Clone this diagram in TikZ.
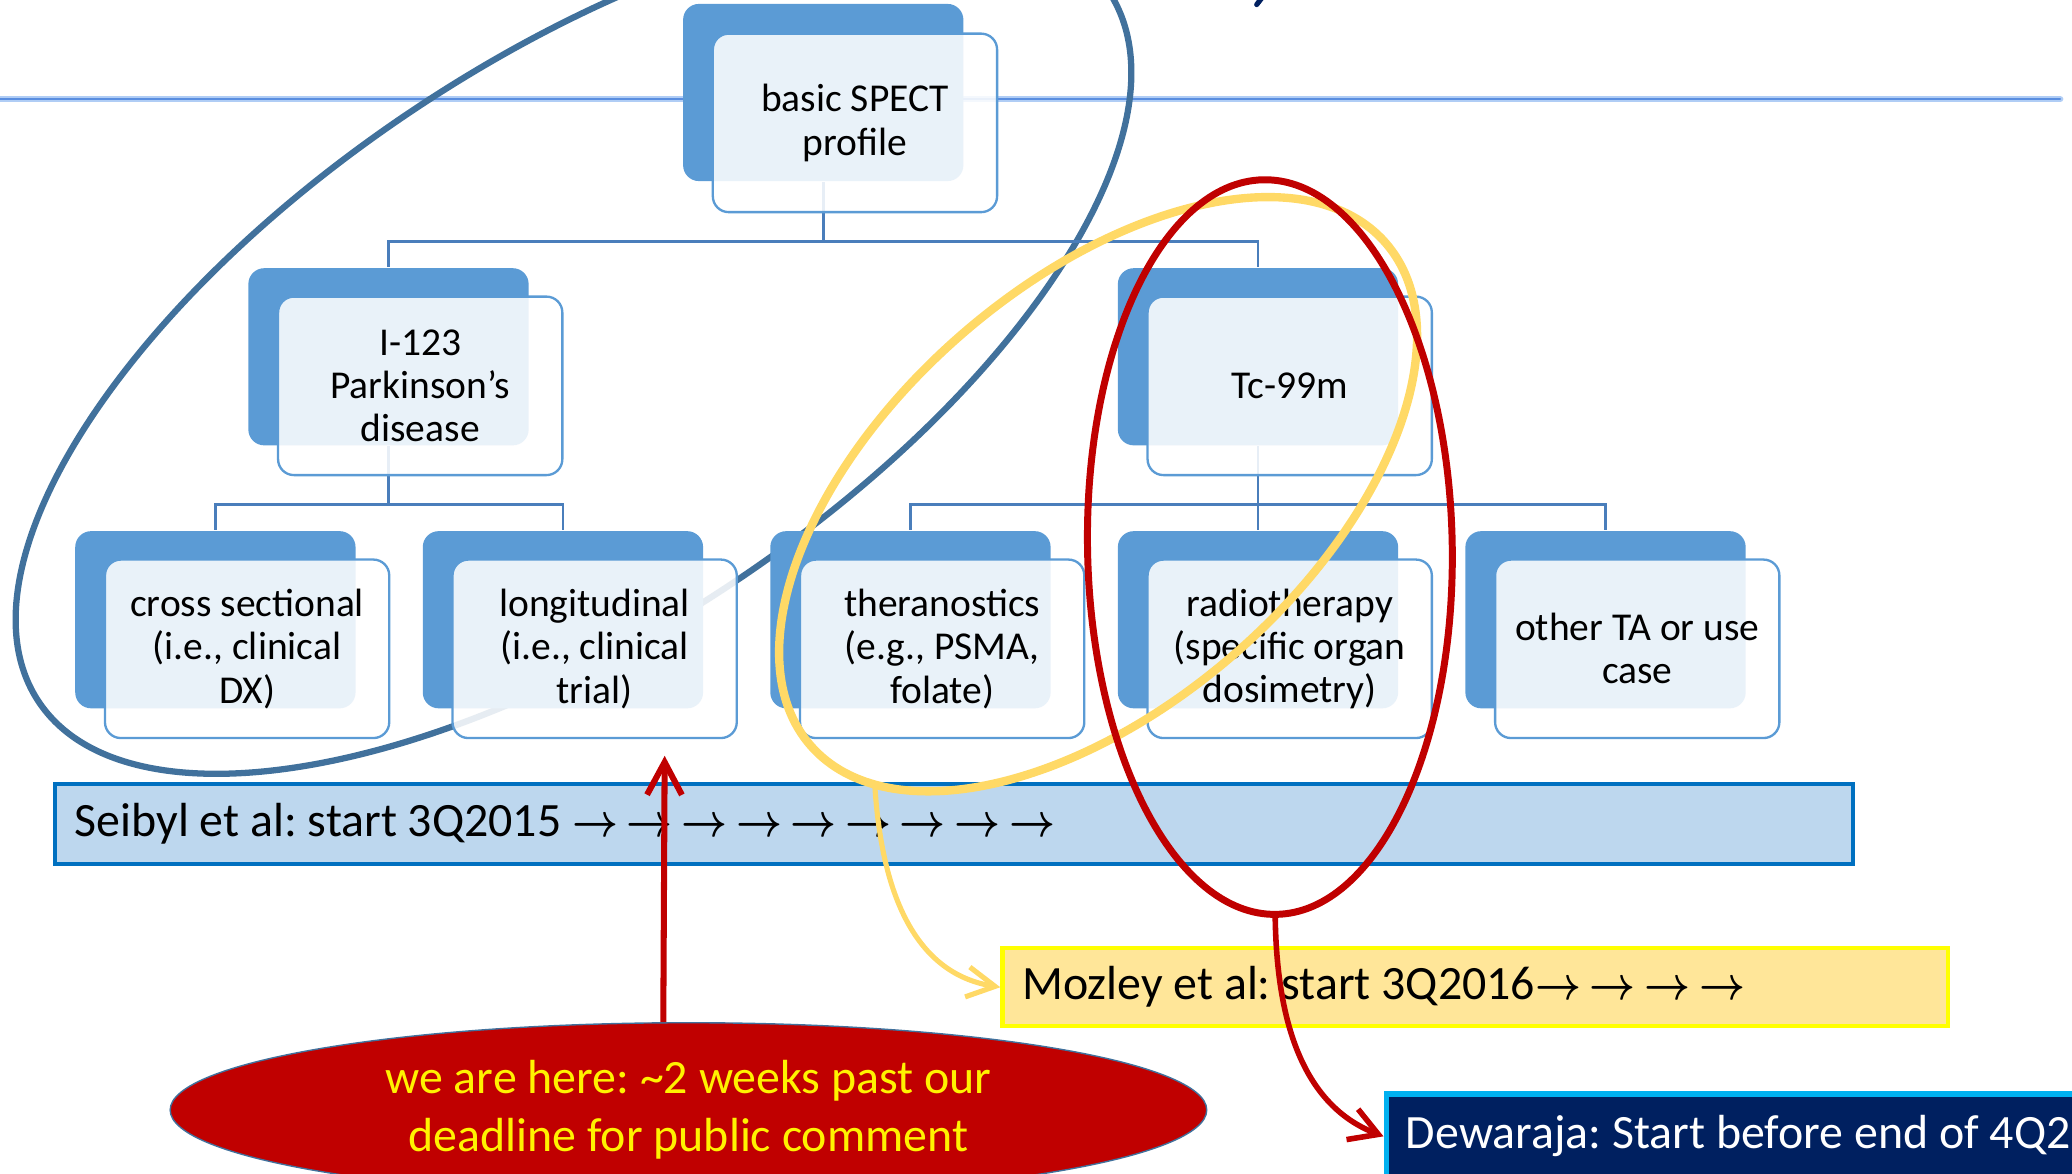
\documentclass[tikz,border=0pt]{standalone}
\usepackage{fontspec}
\setmainfont{Carlito}
\usepackage{graphicx}
\usetikzlibrary{arrows.meta,shapes.geometric}
\frenchspacing

\definecolor{boxblue}{HTML}{5B9BD5}
\definecolor{linkblue}{HTML}{4A7EBB}
\definecolor{ringblue}{HTML}{41719C}
\definecolor{ringyellow}{HTML}{FFD966}
\definecolor{ringred}{HTML}{C00000}
\definecolor{seibylfill}{HTML}{BDD7EE}
\definecolor{seibylline}{HTML}{0070C0}
\definecolor{mozleyfill}{HTML}{FFE699}
\definecolor{mozleyline}{HTML}{FFFF00}
\definecolor{dewafill}{HTML}{002060}
\definecolor{dewaline}{HTML}{00B0F0}
\definecolor{rulelight}{HTML}{B0CDF5}
\definecolor{ruledark}{HTML}{5A8EE0}

\newcommand{\barrow}{\makebox[11.75pt][l]{\scalebox{0.86}[1]{\boldmath$\rightarrow$}}}

\begin{document}
\begin{tikzpicture}[x=0.01cm, y=-0.01cm,
  back/.style={fill=boxblue, rounded corners=0.12cm, minimum width=2.12cm, minimum height=1.34cm, inner sep=0pt},
  front/.style={fill=white, fill opacity=0.87, text opacity=1, draw=boxblue, line width=0.5pt, rounded corners=0.12cm,
    minimum width=2.15cm, minimum height=1.35cm, inner sep=0pt, align=center, font=\fontsize{8.5pt}{9.3pt}\selectfont},
  link/.style={draw=linkblue, line width=0.55pt},
  bar/.style={anchor=north west, inner xsep=0.15cm, inner ysep=0pt, align=flush left, font=\fontsize{10.3pt}{12.5pt}\selectfont}]
\useasboundingbox (0,0) rectangle (1568,888);
\clip (0,0) rectangle (1568,888);

\draw[rulelight, line width=1.4pt, line cap=round] (0,75) -- (1559,75);
\draw[ruledark, line width=0.45pt, line cap=round] (0,75) -- (1559,75);
\draw[dewafill, line width=1.1pt, line cap=round] (956,-3) -- (951,3.5);

\draw[ringblue, line width=1.35pt, rotate around={33.6:(434,262)}] (434,262) ellipse [x radius=486, y radius=216];

\node[back] (spect-b) at (623,70) {};
\node[back] (iodine-b) at (294,270) {};
\node[back] (tc-b) at (952,270) {};
\node[back] (cross-b) at (163,469) {};
\node[back] (longi-b) at (426,469) {};
\node[back] (thera-b) at (689,469) {};
\node[back] (radio-b) at (952,469) {};
\node[back] (other-b) at (1215,469) {};

\draw[link] (spect-b.south) -- ++(0,45) -| (iodine-b.north);
\draw[link] (spect-b.south) -- ++(0,45) -| (tc-b.north);
\draw[link] (iodine-b.south) -- ++(0,44) -| (cross-b.north);
\draw[link] (iodine-b.south) -- ++(0,44) -| (longi-b.north);
\draw[link] (tc-b.south) -- ++(0,44) -| (thera-b.north);
\draw[link] (tc-b.south) -- (radio-b.north);
\draw[link] (tc-b.south) -- ++(0,44) -| (other-b.north);

\node[front] (spect) at (647,93) {basic SPECT\\profile};
\node[front] (iodine) at (318,292) {I-123\\Parkinson’s\\disease};
\node[front] (tc) at (976,292) {Tc-99m};
\node[front] (cross) at (187,491) {cross sectional\\(i.e., clinical\\DX)};
\node[front] (longi) at (450,491) {longitudinal\\(i.e., clinical\\trial)};
\node[front] (thera) at (713,491) {theranostics\\(e.g., PSMA,\\folate)};
\node[front] (radio) at (976,491) {radiotherapy\\(specific organ\\dosimetry)};
\node[front] (other) at (1239,491) {other TA or use\\case};

\node[bar, fill=seibylfill, draw=seibylline, line width=0.9pt, text width=13.3cm, minimum height=0.6cm] (seibyl) at (40,592)
  {Seibyl et al: start 3Q2015 \barrow\barrow\barrow\barrow\barrow\barrow\barrow\barrow\barrow};
\node[bar, fill=mozleyfill, draw=mozleyline, line width=0.9pt, text width=6.85cm, minimum height=0.59cm] (mozley) at (757,716)
  {Mozley et al: start 3Q2016\barrow\barrow\barrow\barrow};
\node[bar, fill=dewafill, draw=dewaline, line width=1.1pt, text=white, text width=6cm, minimum height=0.64cm] (dewa) at (1047,826)
  {Dewaraja: Start before end of 4Q2};

\draw[ringyellow, line width=1.8pt, rotate around={41.2:(831,374)}] (831,374) ellipse [x radius=289, y radius=159];
\draw[ringred, line width=1.5pt, rotate around={1:(961,414)}] (961,414) ellipse [x radius=138, y radius=278];

\coordinate (yellow-foot) at (662,594);
\coordinate (red-foot) at (965,692);
\coordinate (here-tip) at (503,572);

\draw[ringyellow, line width=1.1pt, -{Straight Barb[length=6pt,width=6.5pt]}] (yellow-foot) .. controls (668,690) and (700,738) .. (mozley.west);
\draw[ringred, line width=1.2pt, -{Straight Barb[length=6pt,width=7pt]}] (red-foot) .. controls (966,790) and (995,840) .. (dewa.west);

\node[ellipse, draw=ringblue, line width=0.3pt, fill=ringred, text=yellow, minimum width=7.84cm, minimum height=1.32cm, inner sep=0pt,
  align=center, font=\fontsize{10.3pt}{12.5pt}\selectfont] (here) at (521,840) {we are here: \textasciitilde2 weeks past our\\deadline for public comment};
\draw[ringred, line width=1.3pt, -{Straight Barb[length=7pt,width=7.5pt]}] (here.106) -- (here-tip);
\end{tikzpicture}
\end{document}
